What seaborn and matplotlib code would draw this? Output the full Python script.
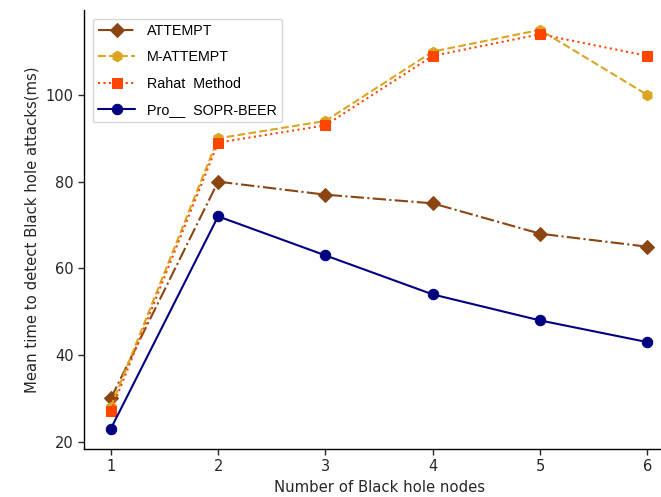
import numpy as np
import pandas as pd
import matplotlib
matplotlib.use("Agg")
import matplotlib.pyplot as plt
import seaborn as sns

nodes = [1, 2, 3, 4, 5, 6]
attempt = [30, 80, 77, 75, 68, 65]
m_attempt = [28, 90, 94, 110, 115, 100]
rahat = [27, 89, 93, 109, 114, 109]
sopr_beer = [23, 72, 63, 54, 48, 43]

names = ['ATTEMPT', 'M-ATTEMPT', 'Rahat  Method', 'Pro__  SOPR-BEER']
series = [attempt, m_attempt, rahat, sopr_beer]
colors = ['#8B4513', '#DAA520', '#FF4500', '#000080']
markers = ['D', 'h', 's', 'o']
styles = ['-.', '--', ':', '-']

sns.set_style("white")
plt.rcParams['font.family'] = ['DejaVu Sans']

fig = plt.figure(figsize=(6.61, 4.97), dpi=100)
ax = fig.add_axes([0.127, 0.097, 0.893, 0.883])

for name, vals, c, m, ls in zip(names, series, colors, markers, styles):
    df = pd.DataFrame({'x': nodes, 'y': vals})
    sns.lineplot(data=df, x='x', y='y', ax=ax, color=c, marker=m, linestyle=ls,
                 markersize=7.5, markeredgecolor=c, linewidth=1.5, label=name)

ax.set_xticks(nodes)
ax.set_yticks([20, 40, 60, 80, 100])
ax.set_xlabel('Number of Black hole nodes', fontsize=10.7)
ax.set_ylabel('Mean time to detect Black hole attacks(ms)', fontsize=10.7)
ax.tick_params(axis='both', labelsize=10.5, length=4, width=1, left=True, bottom=True)
for s in ['left', 'bottom']:
    ax.spines[s].set_color('black')
    ax.spines[s].set_linewidth(1)
sns.despine(ax=ax)
leg = ax.legend(loc='upper left', frameon=True, handlelength=2.6,
                labelspacing=0.85, borderaxespad=0.6,
                prop={'family': 'Liberation Sans', 'size': 10.3})
for t in leg.get_texts():
    t.set_color('black')

fig.savefig('out.png', dpi=100)
